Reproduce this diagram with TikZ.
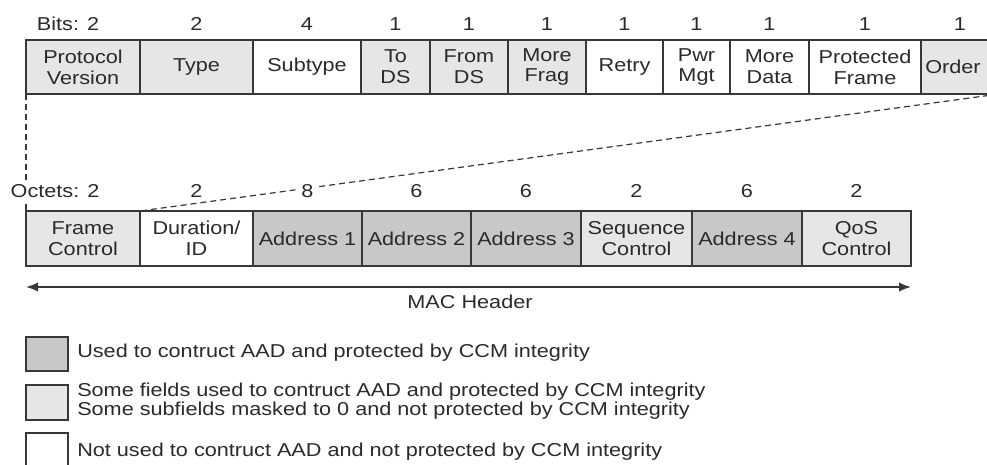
\documentclass[tikz,border=0pt]{standalone}
\usepackage{fontspec}
\setmainfont{Liberation Sans}[FakeStretch=1.16]
\usetikzlibrary{arrows.meta}
\definecolor{lightf}{HTML}{E6E6E6}
\definecolor{darkf}{HTML}{C8C8C8}
\definecolor{edge}{HTML}{383838}
\definecolor{ink}{HTML}{2A2A2A}
\tikzset{
  field/.style={draw=edge, line width=1.1pt, inner sep=1pt, outer sep=0pt, align=center, text=ink,
    font=\fontsize{14}{15.5}\selectfont},
  numlabel/.style={fill=white, inner sep=1.5pt, text=ink, font=\fontsize{14}{16}\selectfont},
  dashline/.style={draw=edge, line width=0.9pt, dash pattern=on 4.5pt off 3pt},
  legbox/.style={draw=edge, line width=1.1pt, minimum width=31.5pt, outer sep=0pt, inner sep=0pt},
  legtext/.style={anchor=west, inner sep=0pt, align=left, text=ink, font=\fontsize{14}{14.3}\selectfont},
  span/.style={draw=edge, line width=1.1pt, {Latex[length=9pt,width=7pt]}-{Latex[length=9pt,width=7pt]}}
}
\newcommand\fld[7]{\node[field, fill=#6, minimum width={(#2-#1)*0.75pt}, minimum height={#4*0.75pt}] (#5) at ({(#1+#2)/2},#3) {#7};}
\begin{document}
\begin{tikzpicture}[x=0.75pt,y=-0.75pt]
\useasboundingbox (0,0) rectangle (987,464);
% top row (bits)
\fld{26}{140}{67}{54}{pv}{lightf}{Protocol\\Version}
\fld{140}{253}{67}{54}{type}{lightf}{Type}
\fld{253}{361}{67}{54}{subtype}{white}{Subtype}
\fld{361}{430}{67}{54}{tods}{lightf}{To\\DS}
\fld{430}{508}{67}{54}{fromds}{lightf}{From\\DS}
\fld{508}{586}{67}{54}{morefrag}{lightf}{More\\Frag}
\fld{586}{663}{67}{54}{retry}{white}{Retry}
\fld{663}{730}{67}{54}{pwr}{white}{Pwr\\Mgt}
\fld{730}{809}{67}{54}{moredata}{white}{More\\Data}
\fld{809}{921}{67}{54}{prot}{white}{Protected\\Frame}
\fld{921}{999}{67}{54}{order}{lightf}{\hspace*{-10.5pt}Order}
% bottom row (octets)
\fld{26}{140}{238.5}{55}{fc}{lightf}{Frame\\Control}
\fld{140}{253}{238.5}{55}{dur}{white}{Duration/\\ID}
\fld{253}{362}{238.5}{55}{a1}{darkf}{Address 1}
\fld{362}{471}{238.5}{55}{a2}{darkf}{Address 2}
\fld{471}{581}{238.5}{55}{a3}{darkf}{Address 3}
\fld{581}{692}{238.5}{55}{seq}{lightf}{Sequence\\Control}
\fld{692}{802}{238.5}{55}{a4}{darkf}{Address 4}
\fld{802}{911}{238.5}{55}{qos}{lightf}{QoS\\Control}
% expansion lines
\draw[dashline] (pv.south west) -- (fc.north west);
\draw[dashline] (order.south east) -- (dur.north west);
% bit labels
\node[numlabel] (bpv) at (68,24) {Bits: 2};
\node[numlabel] (btype) at ([yshift=12pt]type.north) {2};
\node[numlabel] (bsub) at ([yshift=12pt]subtype.north) {4};
\node[numlabel] (btods) at ([yshift=12pt]tods.north) {1};
\node[numlabel] (bfromds) at ([yshift=12pt]fromds.north) {1};
\node[numlabel] (bmf) at ([yshift=12pt]morefrag.north) {1};
\node[numlabel] (bretry) at ([yshift=12pt]retry.north) {1};
\node[numlabel] (bpwr) at ([yshift=12pt]pwr.north) {1};
\node[numlabel] (bmd) at ([yshift=12pt]moredata.north) {1};
\node[numlabel] (bprot) at ([yshift=12pt]prot.north) {1};
\node[numlabel] (border) at ([yshift=12pt]order.north) {1};
% octet labels
\node[numlabel] (ofc) at (55,191) {Octets: 2};
\node[numlabel] (odur) at ([yshift=15pt]dur.north) {2};
\node[numlabel] (oa1) at ([yshift=15pt]a1.north) {8};
\node[numlabel] (oa2) at ([yshift=15pt]a2.north) {6};
\node[numlabel] (oa3) at ([yshift=15pt]a3.north) {6};
\node[numlabel] (oseq) at ([yshift=15pt]seq.north) {2};
\node[numlabel] (oa4) at ([yshift=15pt]a4.north) {6};
\node[numlabel] (oqos) at ([yshift=15pt]qos.north) {2};
% MAC header span
\coordinate (al) at (26,287);
\coordinate (ar) at (911,287);
\draw[span] (al) -- (ar);
\node[numlabel, fill=none] (mac) at (470,302) {MAC Header};
% legend
\node[legbox, fill=darkf, minimum height=25.5pt] (lb1) at (47,354) {};
\node[legbox, fill=lightf, minimum height=26.25pt] (lb2) at (47,402.5) {};
\node[legbox, fill=white, minimum height=26.25pt] (lb3) at (47,450.5) {};
\node[legtext] (lt1) at (77,353) {Used to contruct AAD and protected by CCM integrity};
\node[legtext] (lt2) at (77,401.5) {Some fields used to contruct AAD and protected by CCM integrity\\Some subfields masked to 0 and not protected by CCM integrity};
\node[legtext] (lt3) at (77,452) {Not used to contruct AAD and not protected by CCM integrity};
\end{tikzpicture}
\end{document}
